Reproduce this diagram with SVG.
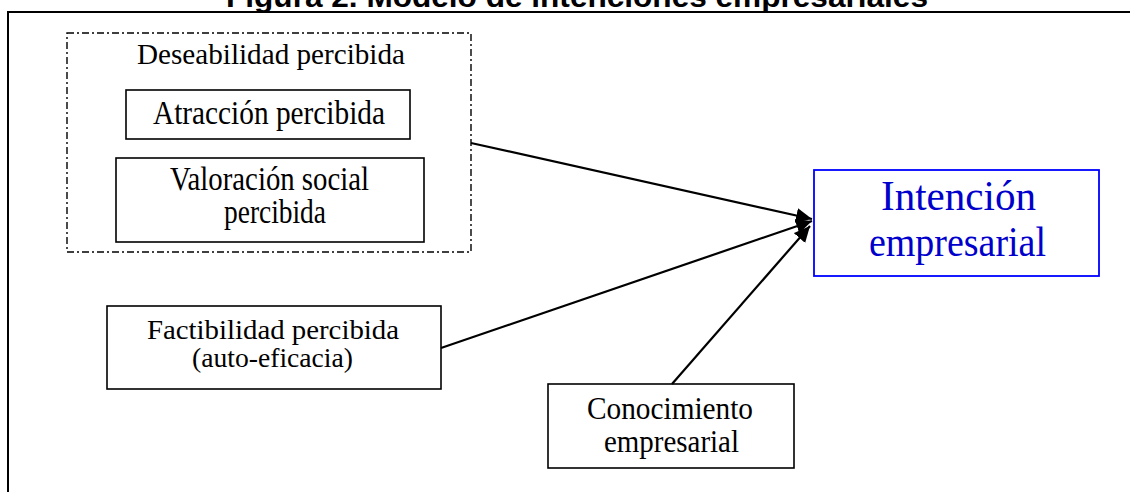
<svg xmlns="http://www.w3.org/2000/svg" width="1130" height="492" viewBox="0 0 1130 492">
<style>
.box{fill:none;stroke:#000;stroke-width:1.6}
.t{font-family:"Liberation Serif","Times New Roman",serif;fill:#000;text-anchor:middle}
.ln{stroke:#000;stroke-width:2.2;fill:none;marker-end:url(#ah)}
</style>
<defs>
<marker id="ah" markerUnits="userSpaceOnUse" markerWidth="18" markerHeight="16" refX="16" refY="7.5" orient="auto" viewBox="0 0 18 16">
<path d="M0,0 L16,7.5 L0,15 z" fill="#000"/>
</marker>
</defs>
<rect width="1130" height="492" fill="#fff"/>
<text x="577" y="7" text-anchor="middle" font-family="'Liberation Sans',Arial,sans-serif" font-weight="bold" font-size="30" fill="#000" textLength="702" lengthAdjust="spacingAndGlyphs">Figura 2. Modelo de intenciones empresariales</text>
<path d="M8,492 V12 H1130" fill="none" stroke="#000" stroke-width="2"/>
<g id="connectors">
<line class="ln" x1="471" y1="143" x2="812" y2="219"/>
<line class="ln" x1="441" y1="348" x2="812" y2="221"/>
<line class="ln" x1="672" y1="384" x2="810" y2="226"/>
</g>
<g id="deseabilidad">
<rect x="67" y="33" width="404" height="219" fill="none" stroke="#000" stroke-width="1.4" stroke-dasharray="7 3 2 3"/>
<text class="t" x="271" y="64" font-size="29" textLength="268" lengthAdjust="spacingAndGlyphs">Deseabilidad percibida</text>
</g>
<g id="atraccion">
<rect class="box" x="126" y="90" width="284" height="49"/>
<text class="t" x="269" y="124" font-size="33" textLength="232" lengthAdjust="spacingAndGlyphs">Atracción percibida</text>
</g>
<g id="valoracion">
<rect class="box" x="116" y="158" width="308" height="84"/>
<text class="t" x="269.5" y="190" font-size="33" textLength="199" lengthAdjust="spacingAndGlyphs">Valoración social</text>
<text class="t" x="275" y="223" font-size="33" textLength="102" lengthAdjust="spacingAndGlyphs">percibida</text>
</g>
<g id="factibilidad">
<rect class="box" x="107" y="306" width="334" height="83"/>
<text class="t" x="273" y="339" font-size="28" textLength="252" lengthAdjust="spacingAndGlyphs">Factibilidad percibida</text>
<text class="t" x="272.5" y="367" font-size="28" textLength="161" lengthAdjust="spacingAndGlyphs">(auto-eficacia)</text>
</g>
<g id="conocimiento">
<rect class="box" x="548" y="384" width="246" height="84"/>
<text class="t" x="670" y="419" font-size="32" textLength="166" lengthAdjust="spacingAndGlyphs">Conocimiento</text>
<text class="t" x="671.5" y="452" font-size="32" textLength="135" lengthAdjust="spacingAndGlyphs">empresarial</text>
</g>
<g id="intencion">
<rect x="814" y="170" width="285" height="106" fill="none" stroke="#0000ff" stroke-width="1.8"/>
<text class="t" x="958.5" y="210" font-size="42" style="fill:#0000cc" textLength="155" lengthAdjust="spacingAndGlyphs">Intención</text>
<text class="t" x="957.5" y="256" font-size="42" style="fill:#0000cc" textLength="177" lengthAdjust="spacingAndGlyphs">empresarial</text>
</g>
</svg>
